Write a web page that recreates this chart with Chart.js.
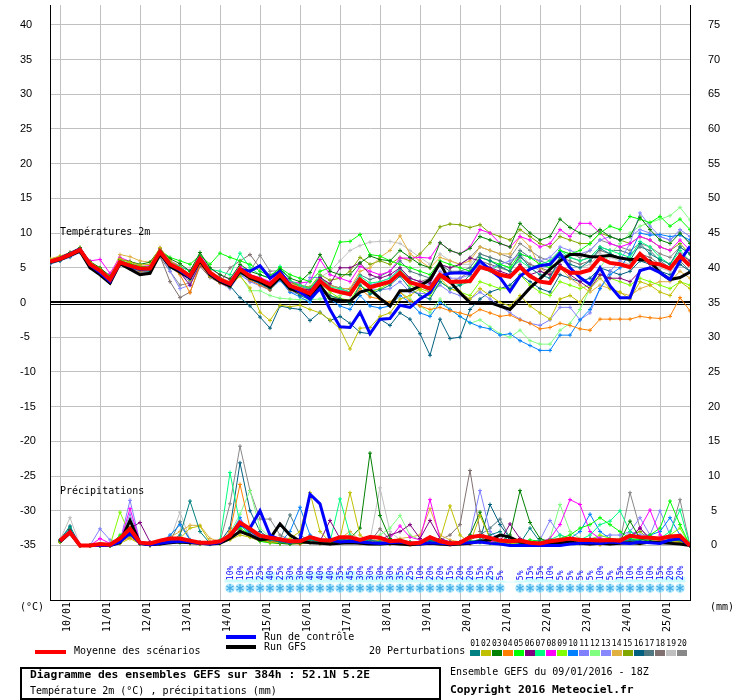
<!DOCTYPE html>
<html><head><meta charset="utf-8">
<script src="https://cdn.jsdelivr.net/npm/chart.js@4.4.1/dist/chart.umd.min.js"></script>
<style>
html,body{margin:0;padding:0;background:#fff;}
#wrap{position:relative;width:740px;height:700px;overflow:hidden;font-family:'DejaVu Sans Mono',monospace;font-size:10px;color:#000;background:#fff;}
#c{position:absolute;left:0;top:0;}
.t{position:absolute;white-space:nowrap;line-height:12px;}
.bd{font-weight:bold;font-size:11.3px;}
.sw{position:absolute;}
.num{position:absolute;font-size:8px;line-height:8px;width:10px;text-align:center;top:640px;}
#box{position:absolute;left:20px;top:667px;width:421px;height:33px;box-sizing:border-box;border:2px solid #000;}
</style></head><body>
<div id="wrap">
<canvas id="c" width="740" height="700"></canvas>
<div class="t" style="left:60px;top:226px">Températures 2m</div>
<div class="t" style="left:60px;top:485px">Précipitations</div>
<div class="t" style="left:20px;top:601px">(°C)</div>
<div class="t" style="left:710px;top:601px">(mm)</div>
<div class="sw" style="left:226px;top:635px;width:30px;height:4px;background:#0000ff"></div>
<div class="t" style="left:264px;top:631px">Run de contrôle</div>
<div class="sw" style="left:226px;top:645px;width:30px;height:4px;background:#000"></div>
<div class="t" style="left:264px;top:641px">Run GFS</div>
<div class="sw" style="left:35px;top:650px;width:31px;height:4px;background:#ff0000"></div>
<div class="t" style="left:74px;top:645px">Moyenne des scénarios</div>
<div class="t" style="left:369px;top:645px">20 Perturbations</div>
<div id="legendSquares"></div>
<div id="box"></div>
<div class="t bd" style="left:30px;top:669px">Diagramme des ensembles GEFS sur 384h : 52.1N 5.2E</div>
<div class="t" style="left:30px;top:685px">Température 2m (°C) , précipitations (mm)</div>
<div class="t" style="left:450px;top:666px">Ensemble GEFS du 09/01/2016 - 18Z</div>
<div class="t bd" style="left:450px;top:684px">Copyright 2016 Meteociel.fr</div>
</div>
<script>
// ---------- DATA ----------
const dayLabels = ['10/01','11/01','12/01','13/01','14/01','15/01','16/01','17/01','18/01','19/01','20/01','21/01','22/01','23/01','24/01','25/01'];
const dayTickHours = [6,30,54,78,102,126,150,174,198,222,246,270,294,318,342,366];
const leftTickValues = [-35,-30,-25,-20,-15,-10,-5,0,5,10,15,20,25,30,35,40];
const rightTickValues = [0,5,10,15,20,25,30,35,40,45,50,55,60,65,70,75];
const memberNames = ['01','02','03','04','05','06','07','08','09','10','11','12','13','14','15','16','17','18','19','20'];
const memberColors = ['#008080','#c0c000','#008000','#ff8000','#00ff00','#800080','#00ff80','#ff00ff','#80ff00','#0080ff','#8080ff','#80ff80','#8888ff','#e0b040','#80a800','#006080','#507880','#807070','#c0c0c0','#888888'];

// temperature 2m (°C), every 6h from 09/01 18Z (65 values)
const tempMean = [5.9,6.3,6.9,7.6,5.5,4.6,3.3,5.8,5.3,4.9,4.9,7.3,5.5,4.8,3.8,6.3,4.3,
 3.3,2.7,4.8,3.8,3.3,2.6,4.0,2.4,1.9,1.3,3.1,1.9,1.5,1.2,3.3,2.2,
 2.6,3.0,4.3,2.9,2.5,2.0,4.0,3.0,3.0,3.1,5.1,4.7,4.0,3.7,5.1,3.8,
 3.0,2.8,5.1,4.3,4.3,4.7,6.4,5.7,5.5,5.1,7.0,5.7,5.5,4.9,6.7,5.3];
const tempControl = [5.9,6.4,7.0,7.7,5.4,4.3,3.0,5.8,5.2,4.8,4.9,7.4,5.6,4.6,3.6,6.4,4.2,
 3.2,2.6,4.8,4.5,5.3,3.5,4.5,2.5,1.5,0.5,2.0,-1.0,-3.5,-3.6,-1.4,-4.5,
 -2.4,-2.3,-0.4,-0.7,0.5,1.4,3.8,4.2,4.3,4.2,6.0,4.7,3.6,1.6,3.8,4.8,
 5.3,5.5,7.1,5.0,3.6,2.6,5.0,2.4,0.7,0.7,4.6,5.0,4.3,3.3,6.0,8.1];
const tempGfs = [5.8,6.2,6.8,7.4,5.0,4.0,2.8,5.6,4.8,4.0,4.2,7.0,5.2,4.4,3.5,6.0,4.0,
 3.0,2.4,4.5,3.5,3.0,2.2,3.6,2.0,1.5,1.0,2.5,0.5,0.3,0.2,1.5,1.9,
 0.6,-0.5,1.7,1.7,2.4,3.3,5.7,3.0,1.4,0.0,0.0,0.0,-0.5,-1.0,0.5,2.1,
 3.4,4.8,6.0,6.9,6.9,6.6,6.6,6.8,6.4,6.2,6.2,6.0,4.3,3.3,3.6,4.4];
const tempP01 = [5.6,6.0,6.6,7.3,5.2,4.2,3.0,5.5,5.0,4.6,4.5,7.0,5.0,4.3,3.4,5.8,4.0,
 3.0,2.2,4.2,3.5,2.8,2.0,3.6,2.0,1.0,0.4,2.5,1.0,0.5,-0.2,2.5,1.2,
 1.8,2.5,3.8,2.0,1.0,0.5,3.0,2.0,2.5,4.0,6.5,6.0,5.2,4.5,6.8,5.0,
 4.0,3.5,6.5,5.5,5.0,6.0,7.8,7.0,6.5,6.0,8.5,7.0,6.2,5.5,8.0,7.0];
const tempP02 = [6.2,6.6,7.0,7.8,5.8,4.8,3.6,6.3,5.8,5.4,5.5,7.9,6.0,5.0,3.2,6.0,3.8,
 3.0,2.4,3.8,2.1,-1.4,-2.6,-0.4,-0.6,-0.4,-1.0,-1.5,-2.5,-3.8,-6.7,-3.7,-3.6,
 -2.0,-1.5,0.5,1.0,2.0,1.5,3.5,2.0,1.5,0.5,2.0,1.0,0.0,-0.5,1.0,-0.5,
 -1.5,-2.4,0.5,1.0,0.0,2.0,3.5,2.0,1.5,0.5,3.0,2.5,1.5,1.0,3.0,2.0];
const tempP03 = [6.0,6.5,7.2,7.9,5.9,5.0,3.8,6.2,5.9,5.5,5.8,7.7,6.3,5.6,4.5,7.2,5.0,
 4.0,3.4,5.5,4.5,4.0,3.5,4.8,3.5,3.0,4.3,6.9,4.5,4.0,4.0,5.7,6.7,
 6.2,6.0,7.5,6.5,5.5,5.0,8.6,7.5,7.0,7.8,9.5,9.0,8.5,8.0,11.4,10.0,
 9.0,9.5,12.0,10.8,10.0,9.5,10.5,9.5,9.0,9.5,12.3,10.5,9.0,8.5,10.0,8.5];
const tempP04 = [5.8,6.2,6.8,7.5,5.4,4.4,3.1,5.9,5.2,4.5,4.6,7.2,5.2,4.0,1.4,5.5,3.8,
 2.8,2.2,4.5,3.2,2.5,1.8,3.5,1.8,1.2,0.6,2.5,1.0,0.5,0.2,2.0,0.8,
 0.5,0.0,1.5,0.2,-0.5,-1.0,-0.7,-1.2,-1.5,-1.9,-1.0,-1.5,-2.0,-1.8,-2.5,-3.0,
 -3.8,-3.6,-3.0,-3.3,-3.8,-4.0,-2.4,-2.4,-2.4,-2.4,-2.0,-2.2,-2.3,-2.0,0.7,-1.2];
const tempP05 = [6.1,6.4,7.0,7.7,5.7,4.9,3.6,6.0,5.6,5.2,5.1,7.5,6.5,6.0,5.5,6.8,5.5,
 7.1,6.5,6.0,5.5,4.5,3.8,5.0,4.0,3.5,3.0,4.5,5.0,8.7,8.8,9.8,6.9,
 6.7,6.0,5.5,5.0,4.5,4.0,6.0,5.5,5.0,4.5,6.5,6.0,5.5,5.0,7.0,6.5,
 5.5,5.0,7.5,7.0,7.5,8.5,10.0,11.0,10.5,12.4,12.0,11.5,12.4,11.0,12.0,10.5];
const tempP06 = [5.7,6.1,6.8,7.4,5.2,4.4,3.2,5.6,5.0,4.7,4.6,7.0,5.3,4.3,2.5,5.4,3.9,
 3.5,2.8,4.6,3.5,3.0,2.5,3.8,2.6,2.0,1.8,3.6,2.7,5.0,5.0,5.7,4.0,
 3.5,4.0,5.0,3.5,3.0,2.8,5.5,5.0,5.5,6.4,6.0,5.0,4.5,4.0,5.5,4.0,
 4.5,4.0,5.5,4.0,3.0,2.0,4.0,3.5,3.5,3.0,4.5,5.0,5.5,5.0,7.0,6.0];
const tempP07 = [6.0,6.4,6.9,7.7,5.6,4.7,3.5,5.9,5.5,5.0,5.0,7.4,5.8,5.2,4.5,6.6,4.8,
 4.5,4.0,7.1,5.0,4.0,3.5,5.2,3.2,2.5,2.0,3.8,2.2,2.0,1.5,3.8,2.8,
 3.0,3.5,4.8,3.2,2.5,1.5,4.0,3.0,2.5,3.0,5.0,4.5,5.5,5.0,6.0,5.0,
 5.5,6.0,7.5,6.5,6.0,6.5,8.0,7.5,7.0,6.5,8.8,8.0,6.5,5.5,7.5,6.0];
const tempP08 = [6.0,6.5,7.1,7.7,6.0,6.2,4.2,6.5,5.9,5.2,5.3,7.8,6.0,5.2,4.6,6.8,4.9,
 4.0,3.3,5.2,4.0,3.6,3.0,4.6,3.0,2.8,3.0,6.2,4.0,3.5,3.0,5.2,4.5,
 4.0,4.5,6.4,6.4,6.5,6.4,8.6,7.5,7.0,8.0,10.5,10.0,8.5,8.0,9.5,9.0,
 8.0,8.5,10.5,9.5,11.4,11.4,10.0,8.5,8.0,8.5,9.5,9.0,8.0,7.5,9.0,7.5];
const tempP09 = [5.8,6.2,6.9,7.6,5.4,4.5,3.2,5.7,5.2,4.9,4.8,7.2,5.6,4.6,3.9,6.2,4.2,
 3.2,2.5,4.6,3.4,3.0,2.2,3.8,2.0,1.5,0.8,2.8,1.5,0.6,0.3,2.5,1.5,
 2.0,2.8,4.0,2.5,1.8,1.0,3.0,2.0,1.5,1.0,3.0,2.5,2.0,2.0,4.0,2.5,
 1.5,1.0,3.0,2.5,2.0,2.5,4.0,3.5,3.0,2.5,3.5,3.0,2.5,2.0,3.0,2.5];
const tempP10 = [5.9,6.3,6.9,7.6,5.5,4.6,3.3,5.8,5.3,4.9,4.9,7.3,5.5,4.8,3.8,6.3,4.3,
 3.3,2.7,4.5,3.3,2.7,1.8,3.2,1.5,0.8,0.0,2.0,0.5,-0.5,-1.0,1.0,-0.5,
 -0.8,-0.5,1.0,0.0,-1.5,-2.0,0.0,-1.0,-2.0,-2.9,-3.5,-3.8,-4.7,-4.5,-5.5,-6.2,
 -6.9,-6.9,-4.7,-4.7,-2.5,-1.0,2.0,4.0,5.0,7.0,10.0,9.7,9.8,9.5,9.7,9.0];
const tempP11 = [5.5,6.0,6.5,7.2,5.1,4.2,3.0,5.4,5.0,4.5,4.4,6.8,5.0,4.2,3.0,5.9,3.9,
 2.8,2.0,4.0,3.0,2.4,1.8,3.3,1.5,1.2,3.6,3.6,2.0,1.5,1.0,3.0,2.0,
 1.8,2.0,3.0,1.5,1.3,1.3,2.5,1.5,1.0,0.5,1.5,0.5,-0.5,-1.5,-2.4,-3.0,
 -3.3,-2.5,-0.7,-0.7,-2.5,-1.5,2.0,4.5,6.0,8.5,12.9,11.0,9.5,9.0,10.5,9.5];
const tempP12 = [6.1,6.6,7.1,7.8,5.8,4.9,3.6,6.1,5.6,5.1,5.2,7.5,5.7,5.0,4.1,6.5,4.5,
 3.5,2.5,4.0,1.7,1.7,1.0,0.6,0.5,0.4,0.4,0.5,0.6,1.0,1.5,2.5,1.5,
 0.5,0.0,1.5,0.5,-0.5,-1.5,0.5,-1.0,-2.0,-3.0,-2.5,-3.5,-4.5,-5.0,-4.0,-5.5,
 -6.0,-6.0,-4.0,-3.0,-1.0,2.0,5.0,7.0,8.5,10.0,11.0,11.5,12.0,12.5,13.7,11.9];
const tempP13 = [5.7,6.1,6.7,7.4,5.3,4.3,3.1,5.6,5.0,4.6,4.7,7.0,4.5,2.0,2.5,5.6,4.0,
 3.0,2.5,4.2,3.0,2.8,2.2,3.8,2.5,2.0,1.5,3.0,2.0,1.8,1.5,3.2,2.5,
 3.0,3.5,5.0,3.5,3.0,2.5,4.5,3.5,3.5,4.0,5.5,5.0,5.5,6.0,7.0,6.5,
 6.0,6.5,8.0,7.5,7.0,7.5,9.0,9.5,9.0,9.5,10.5,10.0,9.5,9.0,10.0,8.5];
const tempP14 = [6.3,6.7,7.2,7.9,5.8,5.0,3.8,6.9,6.6,6.0,5.8,7.8,6.0,5.3,4.5,6.5,4.6,
 3.6,3.0,5.0,4.0,3.5,2.8,4.3,2.8,2.2,1.8,3.5,2.5,2.0,2.0,4.5,5.0,
 6.5,7.5,9.6,7.0,6.0,5.0,6.5,6.0,5.5,6.0,8.0,7.5,7.0,7.0,9.5,8.0,
 5.0,4.0,5.0,3.5,2.5,1.5,2.5,2.0,1.4,1.0,2.0,2.5,3.0,3.0,4.5,3.5];
const tempP15 = [5.9,6.3,6.9,7.5,5.6,4.7,3.3,5.8,5.2,4.8,4.9,7.3,5.5,4.9,3.9,6.2,4.2,
 3.2,2.5,4.6,3.5,3.0,2.5,4.0,2.8,2.5,2.2,4.0,3.2,3.5,4.5,6.5,5.5,
 6.0,5.5,6.5,6.0,7.0,8.6,10.9,11.3,11.2,10.8,11.2,10.0,9.5,9.0,10.5,9.5,
 8.5,8.0,9.5,9.0,8.5,8.5,10.0,9.5,9.0,8.5,9.5,9.0,8.0,7.5,8.5,7.0];
const tempP16 = [5.8,6.2,6.8,7.5,5.4,4.5,3.2,5.7,5.2,4.8,4.8,7.1,5.3,4.6,3.6,6.0,3.9,
 3.0,2.4,0.7,-0.5,-2.1,-3.7,-0.5,-0.8,-1.0,-2.6,-1.4,-2.6,-2.0,-3.0,-4.3,-4.5,
 -2.4,-3.3,-1.5,-2.4,-4.5,-7.6,-2.4,-5.2,-5.0,-1.0,0.5,1.5,2.0,2.5,4.0,3.0,
 2.0,1.5,4.0,3.5,3.0,3.5,5.0,4.5,4.0,4.5,6.0,5.5,4.5,4.0,5.5,4.5];
const tempP17 = [5.8,6.1,6.8,7.4,5.2,4.3,3.0,5.6,5.1,4.6,4.5,7.1,5.6,5.1,4.0,6.1,4.1,
 3.1,2.6,4.6,3.6,3.4,2.9,4.3,2.9,2.3,1.9,3.7,2.5,2.1,1.9,4.0,3.3,
 3.8,4.5,6.0,4.5,4.0,3.5,5.5,4.5,4.5,5.0,7.0,6.5,6.0,5.5,7.5,6.5,
 6.0,5.5,7.0,6.5,6.0,6.5,8.0,7.5,7.5,7.0,8.0,7.5,6.0,5.0,6.0,4.5];
const tempP18 = [5.6,6.0,6.6,7.3,5.0,4.1,2.8,5.4,4.9,4.4,4.4,6.7,3.0,0.7,1.5,5.2,3.6,
 2.8,5.0,6.0,6.9,5.0,4.0,4.5,3.0,2.5,2.0,3.5,2.5,2.0,1.5,3.5,2.5,
 2.5,3.0,4.5,3.0,2.5,2.0,3.5,3.0,3.5,4.5,6.0,5.5,5.0,4.5,6.5,5.5,
 5.0,4.5,6.5,6.0,5.5,6.0,7.5,7.0,6.5,6.0,7.0,6.5,5.5,5.0,6.5,5.5];
const tempP19 = [5.9,6.2,6.8,7.5,5.5,4.5,3.3,5.7,5.3,4.8,4.9,7.2,5.4,4.7,3.7,6.2,4.2,
 3.2,2.5,4.8,3.8,3.3,2.7,4.2,2.8,2.3,1.8,3.6,4.5,6.0,7.5,8.2,8.7,
 8.8,8.8,8.5,7.5,6.5,5.5,7.0,6.0,5.5,5.5,7.0,6.5,6.0,5.5,7.0,5.5,
 4.5,4.0,6.0,5.5,5.0,5.5,7.0,6.5,6.0,5.5,6.5,6.0,5.0,4.5,5.5,4.5];
const tempP20 = [5.8,6.2,6.7,7.4,5.3,4.4,3.1,5.6,5.1,4.3,4.3,6.5,4.5,2.5,2.8,5.6,3.9,
 3.0,2.6,4.6,4.5,6.8,4.5,4.6,3.0,2.3,1.6,3.3,2.1,1.6,1.3,3.2,2.2,
 2.5,3.0,4.5,3.5,3.0,3.5,5.5,5.0,5.5,6.5,8.0,7.5,7.0,6.5,8.5,7.5,
 6.5,6.0,7.5,7.0,6.5,7.5,9.0,8.5,8.0,7.5,8.5,8.0,7.0,6.5,8.0,7.0];

// precipitation (mm / 6h), from 10/01 00Z (64 values)
const precipMean = [0.7,1.9,0,0,0.2,0.1,1.0,2.4,0.4,0.3,0.7,1.0,1.0,0.7,0.4,0.4,
 0.6,1.4,3.3,2.4,1.4,1.1,0.9,0.6,0.6,1.2,0.8,0.7,1.2,1.2,0.8,1.2,
 1.1,0.6,0.7,0.3,0.4,1.2,0.6,0.3,0.4,1.2,1.4,1.1,0.7,0.6,0.7,0.4,
 0.3,0.6,0.8,1.0,0.8,0.8,0.7,0.8,0.7,1.4,1.2,1.1,1.0,1.3,1.4,0];
const precipControl = [0.6,2.0,0,0,0,0,0.5,1.8,0.3,0.1,0.3,0.5,0.6,0.5,0.3,0.2,
 0.4,1.5,3.0,2.5,5.0,1.5,0.8,0.5,0.8,7.4,6.0,0.8,0.5,0.6,0.5,0.4,
 0.3,0.4,0.5,0.3,0.2,0.4,0.3,0.2,0.3,0.4,0.5,0.3,0.2,0,0,0,
 0,0,0,0.2,0.3,0.4,0.3,0.5,0.4,0.3,0.5,0.4,0.3,0.8,1.0,0];
const precipGfs = [0.5,1.8,0,0,0,0,0.4,3.6,0.3,0.1,0.2,0.4,0.5,0.4,0.3,0.2,
 0.3,1.0,2.0,1.5,0.8,1.0,3.1,1.5,0.6,0.4,0.3,0.2,0.3,0.4,0.3,0.2,
 0.2,0.3,0.2,0.1,0.2,0.3,0.2,0.1,0.2,0.3,0.6,0.8,1.5,1.2,0.5,0.3,
 0.2,0.3,0.4,0.5,0.3,0.2,0.3,0.2,0.3,0.4,0.3,0.5,0.4,0.3,0.2,0];
const precipP01 = [0.8,2.8,0,0,0,0,0.5,1.5,0.2,0,0.3,0.5,1.5,6.4,2.0,0.3,
 0.5,1.5,3.0,2.0,1.0,0.8,0.5,0.3,0.5,0.8,0.5,0.3,0.8,1.0,0.5,0.8,
 0.5,0.3,0.5,0.2,0.3,0.8,0.4,0.2,0.3,0.6,0.8,1.5,2.0,0.5,0.3,2.5,
 0.5,0.3,0.5,0.8,0.4,0.5,0.3,0.4,0.5,0.8,0.6,0.5,0.4,0.6,0.8,0];
const precipP02 = [0.5,2.0,0,0,0,0,0.3,1.0,0.2,0,0.2,0.4,1.0,2.5,2.8,0.5,
 0.3,0.8,1.5,1.2,0.8,0.5,0.4,1.0,2.0,7.6,2.0,0.5,1.0,7.6,1.5,0.5,
 0.8,0.5,0.3,0.2,0.5,1.2,0.8,5.7,1.5,0.3,4.3,1.0,0.5,0.2,0.4,0.3,
 0.2,0.1,0.3,0.5,0.4,0.3,0.2,0.3,0.5,0.4,0.3,0.5,0.4,0.6,0.5,0];
const precipP03 = [0.6,2.2,0,0,0,0,0.4,1.8,0.3,0.1,0.3,0.5,0.6,0.4,0.2,0.2,
 0.3,1.0,2.0,1.5,0.8,0.5,0.3,0.2,0.3,0.4,0.3,0.5,0.8,1.0,2.5,13.3,
 4.3,1.0,0.5,0.3,0.4,0.8,0.5,0.3,0.5,1.5,4.8,1.0,0.5,1.5,7.9,3.3,
 1.0,0.5,0.4,0.5,0.3,0.4,0.3,0.5,0.6,3.5,1.0,0.5,0.4,0.8,0.6,0];
const precipP04 = [0.7,2.0,0,0,0,0,0.5,1.2,0.2,0,0.2,0.6,0.5,0.3,0.2,0.3,
 0.5,2.0,8.8,2.5,1.0,0.6,0.4,0.3,0.2,0.5,0.3,0.2,0.4,0.5,0.3,0.4,
 0.3,0.2,0.3,0.1,0.2,0.3,0.2,0.1,0.2,0.3,0.5,0.4,0.2,0.1,0.2,0.1,
 0.1,0.2,0.3,0.4,0.3,0.2,0.1,0.2,0.3,0.4,0.3,0.5,0.6,0.4,0.5,0];
const precipP05 = [0.5,1.8,0,0,0,0,1.5,2.5,0.4,0.2,0.4,0.5,0.4,0.3,0.3,0.2,
 0.4,1.5,2.5,1.5,0.6,0.4,0.3,0.5,0.6,0.8,0.5,0.4,0.5,0.8,0.6,0.5,
 0.3,0.5,0.8,0.4,0.3,0.5,0.6,0.4,0.3,0.5,0.6,0.4,0.5,0.3,0.5,0.8,
 0.6,0.8,1.0,1.5,2.5,3.0,4.0,3.0,2.0,1.0,0.8,1.5,2.5,6.4,3.0,0];
const precipP06 = [0.6,2.3,0,0,0,0,0.5,2.5,3.3,0.5,0.3,0.5,0.6,0.5,0.4,0.3,
 0.4,1.2,2.2,1.5,0.8,0.6,0.5,0.4,0.3,0.5,0.6,3.6,1.0,0.5,0.6,0.5,
 0.8,1.5,2.0,3.0,1.0,3.6,1.0,0.5,0.4,0.3,0.5,0.4,0.6,3.1,1.0,0.5,
 0.4,0.5,0.6,0.5,0.8,1.0,0.8,0.6,0.8,1.2,2.5,1.0,0.8,0.6,0.8,0];
const precipP07 = [0.8,2.6,0,0,0,0,0.6,1.8,0.3,0.1,0.3,0.6,0.5,0.4,0.3,0.2,
 0.8,10.5,3.0,1.5,0.8,0.5,0.4,0.3,0.5,0.6,0.4,0.5,6.7,1.5,0.5,0.4,
 0.3,0.4,0.5,0.3,0.2,0.4,0.3,0.2,0.3,0.5,0.4,0.3,0.2,0.3,0.4,0.3,
 0.5,0.8,1.5,1.0,0.8,1.5,3.0,3.5,5.0,2.0,1.0,0.8,1.0,2.0,5.1,0];
const precipP08 = [0.5,1.9,0,0,1.0,0.3,0.5,5.3,0.5,0.2,0.4,0.6,0.5,0.4,0.3,0.3,
 0.5,1.5,3.5,2.0,1.0,0.6,0.5,0.4,0.3,0.5,0.6,0.5,0.8,0.6,0.5,0.4,
 0.5,1.0,2.8,1.2,0.8,6.6,1.0,0.5,0.3,0.4,0.5,0.6,0.3,0.2,0.5,0.4,
 0.5,1.0,3.0,6.6,5.9,2.0,1.0,0.8,0.6,1.0,2.5,5.1,1.5,0.8,0.6,0];
const precipP09 = [0.6,2.0,0,0,0,0,4.8,1.5,0.3,0.1,0.3,0.5,0.5,0.4,0.3,0.2,
 0.3,1.2,2.0,1.5,0.8,0.5,0.3,0.2,0.3,0.5,0.4,0.3,0.4,0.6,0.5,0.4,
 0.3,0.2,0.4,0.3,0.2,0.5,0.4,0.2,0.3,0.4,0.5,0.3,0.2,0.3,0.4,0.2,
 0.3,0.4,0.5,0.6,0.5,0.8,1.5,1.0,0.8,0.6,0.5,0.8,1.0,1.5,2.5,0];
const precipP10 = [0.7,2.1,0,0,0,0,0.5,1.5,0.3,0.1,0.3,1.5,3.0,0.8,0.3,0.3,
 0.5,1.5,4.0,1.5,0.8,0.5,0.4,2.0,5.5,1.5,0.8,0.5,0.4,0.5,0.6,0.4,
 0.3,0.2,0.3,0.2,0.3,0.5,0.3,0.2,0.3,0.5,0.6,0.4,0.3,0.2,0.5,0.3,
 0.4,0.5,0.8,1.0,2.0,4.5,2.0,1.0,0.8,0.6,0.8,1.5,2.0,4.0,1.5,0];
const precipP11 = [0.6,2.4,0,0,2.4,0.8,0.6,6.5,0.5,0.2,0.3,0.5,0.6,0.5,0.4,0.3,
 0.5,1.5,3.0,2.0,1.0,0.6,0.5,0.4,0.6,0.8,0.5,0.4,0.5,0.6,0.5,0.4,
 0.4,0.5,0.3,0.2,0.3,0.5,0.4,0.3,0.5,1.5,7.9,2.0,0.8,0.5,0.6,0.5,
 0.8,3.6,1.5,1.0,0.8,1.0,1.2,1.5,1.5,2.0,1.5,1.5,5.0,1.5,0.8,0];
const precipP12 = [0.7,2.5,0,0,0,0,0.6,1.6,0.3,0.1,0.3,0.5,0.5,0.4,0.3,0.3,
 0.5,1.8,4.5,7.9,2.5,1.2,0.6,0.4,0.5,0.6,0.4,0.3,0.5,0.6,0.5,0.4,
 1.5,2.5,4.3,1.5,0.8,0.5,0.4,0.3,0.5,0.6,0.8,0.5,0.4,0.3,0.5,0.4,
 0.5,1.0,5.9,2.0,1.0,0.8,0.6,0.8,1.0,0.8,0.6,0.8,1.0,0.8,0.6,0];
const precipP13 = [0.8,2.7,0,0,0,0,0.8,4.5,0.6,0.2,0.3,0.5,0.4,0.3,0.3,0.2,
 0.4,1.5,2.8,1.8,1.0,0.6,0.4,0.3,0.4,0.6,0.5,0.4,0.6,0.8,0.5,0.4,
 0.3,0.4,0.5,0.3,0.5,0.8,0.5,0.3,0.4,0.6,0.5,0.4,0.5,0.8,0.6,0.5,
 0.4,0.6,0.8,0.6,0.5,0.8,1.0,0.8,0.6,2.0,4.0,1.5,0.8,1.0,0.8,0];
const precipP14 = [0.6,2.0,0,0,0,0,0.5,1.4,0.4,0.2,0.6,1.2,2.0,2.9,2.9,1.0,
 0.6,1.5,2.5,1.5,0.8,0.5,0.6,0.8,1.0,0.8,0.6,0.8,1.0,2.0,0.8,0.5,
 0.4,0.6,1.0,1.2,1.5,5.3,1.5,0.8,0.5,0.6,0.8,0.5,0.4,0.3,0.5,0.4,
 0.3,0.5,0.6,0.5,0.4,0.5,0.6,0.5,0.4,0.5,0.6,0.8,0.6,0.5,0.8,0];
const precipP15 = [0.5,2.2,0,0,0,0,0.4,1.6,0.3,0.1,0.3,0.5,0.5,0.4,0.3,0.3,
 0.4,1.2,2.0,1.2,0.6,0.4,0.3,0.5,0.6,0.5,0.4,0.3,0.5,0.6,0.8,0.5,
 0.4,0.3,0.5,0.4,0.3,0.6,0.5,0.4,0.3,0.5,0.6,0.4,0.3,0.4,0.6,0.5,
 0.4,0.5,0.8,0.6,0.5,0.6,0.8,1.0,0.8,1.5,2.0,0.8,0.6,0.8,0.6,0];
const precipP16 = [0.7,2.4,0,0,0,0,0.5,1.5,0.3,0.1,0.3,0.6,0.8,0.6,0.4,0.3,
 0.5,2.5,11.9,5.0,2.0,1.0,0.6,0.5,0.4,0.6,0.5,0.4,0.5,0.8,0.6,0.5,
 0.5,0.6,0.8,0.5,0.4,0.6,0.5,0.4,0.5,0.6,0.8,5.9,3.0,1.0,0.6,0.5,
 0.4,0.5,0.6,0.8,0.6,0.5,0.6,0.8,0.6,0.8,1.0,0.8,0.6,0.8,1.0,0];
const precipP17 = [0.6,2.3,0,0,0,0,0.5,1.6,0.3,0.1,0.3,0.6,3.4,0.8,0.4,0.3,
 0.5,1.8,3.0,2.0,1.0,0.6,0.8,4.4,1.5,0.6,0.4,0.5,0.6,0.8,0.6,0.5,
 0.4,0.5,0.6,0.4,0.3,0.5,0.4,0.3,0.5,0.8,1.5,2.5,3.8,1.0,0.6,0.5,
 0.4,0.5,0.6,0.5,0.6,0.8,0.6,0.5,0.6,0.8,0.6,0.8,1.0,0.8,0.6,0];
const precipP18 = [0.7,2.5,0,0,0,0,0.5,1.6,0.3,0.1,0.3,0.5,0.8,0.6,0.4,0.3,
 0.5,1.5,3.0,2.0,1.0,0.6,0.5,0.4,0.5,0.6,0.5,0.4,0.6,0.8,0.6,0.5,
 2.4,0.8,0.5,0.3,0.4,0.6,0.8,1.5,3.0,10.8,2.0,0.8,0.5,0.4,0.5,0.4,
 0.3,0.4,0.5,0.6,0.5,0.6,0.8,0.6,0.5,0.6,0.8,0.6,0.8,1.0,0.8,0];
const precipP19 = [0.8,4.0,0,0,0,0,0.5,1.6,0.3,0.1,0.3,0.8,4.8,0.8,0.4,0.3,
 0.5,1.5,2.8,1.8,1.0,0.6,0.5,0.4,0.5,0.6,0.5,0.4,0.6,0.8,0.6,0.8,
 8.3,2.0,0.8,0.5,0.4,0.6,0.5,0.4,0.5,0.6,0.8,0.6,0.5,0.4,0.5,0.4,
 0.4,0.5,0.6,0.5,0.6,0.8,0.6,0.5,0.6,0.8,0.6,0.8,1.0,0.8,0.6,0];
const precipP20 = [0.7,2.6,0,0,0,0,0.5,1.6,0.3,0.1,0.3,0.6,0.8,0.6,0.4,0.3,
 0.5,6.0,14.3,7.9,3.8,3.8,1.5,0.8,0.6,0.5,0.4,0.5,0.6,0.8,0.6,0.5,
 0.4,0.5,0.6,0.4,0.3,0.5,0.4,0.3,0.5,0.6,0.8,0.6,0.5,0.4,0.5,0.4,
 0.4,0.5,0.6,0.5,0.6,0.8,0.6,0.5,0.6,7.6,2.5,0.8,1.0,1.5,6.6,0];

// snow probability (%) per 6h step, from 14/01 06Z to 25/01 12Z
const snowPct = [10,10,15,25,40,25,30,30,40,40,40,35,45,30,30,30,30,35,25,10,20,20,15,20,20,15,25,5,
 0,5,15,15,10,5,5,5,5,10,5,15,10,10,10,15,20,20];

// ---------- BUILD ----------
const tempHours = tempMean.map((_, i) => i * 6);
const precipHours = precipMean.map((_, i) => (i + 1) * 6);
const snowHours = snowPct.map((_, i) => 108 + i * 6);
const memberTemps = [tempP01,tempP02,tempP03,tempP04,tempP05,tempP06,tempP07,tempP08,tempP09,tempP10,tempP11,tempP12,tempP13,tempP14,tempP15,tempP16,tempP17,tempP18,tempP19,tempP20];
const memberPrecips = [precipP01,precipP02,precipP03,precipP04,precipP05,precipP06,precipP07,precipP08,precipP09,precipP10,precipP11,precipP12,precipP13,precipP14,precipP15,precipP16,precipP17,precipP18,precipP19,precipP20];
const toXY = (hours, vals) => vals.map((v, i) => ({x: hours[i], y: v}));

// legend squares
(function(){
  const host = document.getElementById('legendSquares');
  memberColors.forEach((col, k) => {
    const left = 470 + k * 10.9;
    const sq = document.createElement('div');
    sq.className = 'sw';
    sq.style.cssText = `left:${left}px;top:650px;width:10px;height:6px;background:${col}`;
    host.appendChild(sq);
    const n = document.createElement('div');
    n.className = 'num';
    n.style.left = left + 'px';
    n.textContent = memberNames[k];
    host.appendChild(n);
  });
})();

const datasets = [];
const thick = (label, temp, precip, color, w, order) => {
  datasets.push({label: label, data: toXY(tempHours, temp), yAxisID: 'y', borderColor: color, backgroundColor: color, borderWidth: w, pointRadius: 0, order: order});
  datasets.push({label: label + ' (pr)', data: toXY(precipHours, precip), yAxisID: 'yR', borderColor: color, backgroundColor: color, borderWidth: w, pointRadius: 0, order: order});
};
thick('Moyenne des scénarios', tempMean, precipMean, '#ff0000', 4, 0);
thick('Run de contrôle', tempControl, precipControl, '#0000ff', 3, 1);
thick('Run GFS', tempGfs, precipGfs, '#000000', 3, 2);
memberTemps.forEach((vals, k) => {
  const c = memberColors[k];
  datasets.push({label: 'P' + memberNames[k], data: toXY(tempHours, vals), yAxisID: 'y', borderColor: c, backgroundColor: c, borderWidth: 1, pointStyle: 'cross', pointRadius: 2, pointBorderWidth: 1, pointBorderColor: c, order: 3});
  datasets.push({label: 'P' + memberNames[k] + ' (pr)', data: toXY(precipHours, memberPrecips[k]), yAxisID: 'yR', borderColor: c, backgroundColor: c, borderWidth: 1, pointStyle: 'cross', pointRadius: 2, pointBorderWidth: 1, pointBorderColor: c, order: 3});
});
datasets.push({type: 'bar', label: 'neige', data: toXY(snowHours, snowPct), yAxisID: 'ySnow', backgroundColor: '#ccfcff', borderWidth: 0, barPercentage: 1, categoryPercentage: 1, order: 10});

function drawFlake(ctx, cx, cy) {
  ctx.save();
  ctx.fillStyle = '#b4eaff';
  ctx.beginPath(); ctx.arc(cx, cy, 4.7, 0, Math.PI * 2); ctx.fill();
  ctx.strokeStyle = '#45aee6'; ctx.lineWidth = 1.3;
  for (let k = 0; k < 3; k++) {
    const a = Math.PI / 2 + k * Math.PI / 3;
    ctx.beginPath();
    ctx.moveTo(cx + 4.2 * Math.cos(a), cy + 4.2 * Math.sin(a));
    ctx.lineTo(cx - 4.2 * Math.cos(a), cy - 4.2 * Math.sin(a));
    ctx.stroke();
  }
  ctx.restore();
}

const overlay = {
  id: 'overlay',
  beforeDatasetsDraw(chart) {
    const ctx = chart.ctx, a = chart.chartArea;
    const y0 = Math.round(chart.scales.y.getPixelForValue(0));
    ctx.save();
    ctx.fillStyle = '#000';
    ctx.fillRect(a.left, y0 - 2, a.right - a.left, 2);
    ctx.fillRect(a.left, y0 + 1, a.right - a.left, 1);
    ctx.restore();
  },
  afterDatasetsDraw(chart) {
    const ctx = chart.ctx, xs = chart.scales.x, ys = chart.scales.ySnow;
    const base = ys.getPixelForValue(0);
    snowPct.forEach((v, i) => {
      if (!v) return;
      const px = xs.getPixelForValue(snowHours[i]);
      drawFlake(ctx, px, base + 6);
    });
    snowPct.forEach((v, i) => {
      if (!v) return;
      const px = xs.getPixelForValue(snowHours[i]);
      ctx.save();
      ctx.translate(px + 3, base - 2);
      ctx.rotate(-Math.PI / 2);
      ctx.fillStyle = '#0000ff';
      ctx.font = '8px "DejaVu Sans Mono"';
      ctx.textAlign = 'left';
      ctx.textBaseline = 'alphabetic';
      ctx.fillText(v + '%', 0, 0);
      ctx.restore();
    });
  }
};

new Chart(document.getElementById('c'), {
  type: 'line',
  data: {datasets: datasets},
  plugins: [overlay],
  options: {
    responsive: false, maintainAspectRatio: false, animation: false, devicePixelRatio: 1,
    layout: {padding: {left: 20, right: 0, top: 0, bottom: 0}},
    elements: {line: {tension: 0, fill: false}, point: {hitRadius: 0}},
    plugins: {legend: {display: false}, tooltip: {enabled: false}},
    events: [],
    scales: {
      x: {
        type: 'linear', position: 'bottom', min: 0, max: 384, offset: false,
        afterBuildTicks: s => { s.ticks = dayTickHours.map(v => ({value: v})); },
        afterFit: s => { s.height = 100; s.paddingLeft = 0; s.paddingRight = 0; },
        ticks: {autoSkip: false, maxRotation: 90, minRotation: 90, padding: 2, labelOffset: 7, color: '#000',
          font: {family: 'DejaVu Sans Mono', size: 10}, callback: (v, i) => dayLabels[i]},
        grid: {color: '#c0c0c0', lineWidth: 1, drawTicks: false, offset: false},
        border: {display: true, color: '#000', width: 1}
      },
      y: {
        type: 'linear', position: 'left', min: -300 / 7, max: 300 / 7,
        afterBuildTicks: s => { s.ticks = leftTickValues.map(v => ({value: v})); },
        afterFit: s => { s.width = 30; s.paddingTop = 0; s.paddingBottom = 0; },
        ticks: {crossAlign: 'far', color: '#000', font: {family: 'Liberation Sans', size: 11}, callback: v => String(v)},
        grid: {color: '#c0c0c0', lineWidth: 1, drawTicks: false},
        border: {display: true, color: '#000', width: 1}
      },
      yR: {
        type: 'linear', position: 'right', min: 35 - 300 / 7, max: 35 + 300 / 7,
        afterBuildTicks: s => { s.ticks = rightTickValues.map(v => ({value: v})); },
        afterFit: s => { s.width = 50; s.paddingTop = 0; s.paddingBottom = 0; },
        ticks: {crossAlign: 'center', padding: 18, color: '#000', font: {family: 'Liberation Sans', size: 11}, callback: v => String(v)},
        grid: {display: false, drawTicks: false},
        border: {display: true, color: '#000', width: 1}
      },
      ySnow: {type: 'linear', display: false, min: -75, max: 2425}
    }
  }
});
</script>
</body></html>
